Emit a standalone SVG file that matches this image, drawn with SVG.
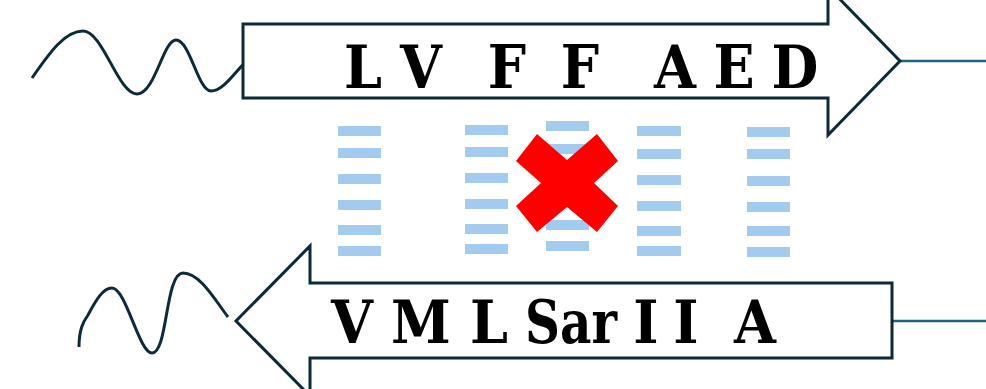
<svg xmlns="http://www.w3.org/2000/svg" width="986" height="389" viewBox="0 0 986 389">
<style>
.arrow{fill:#ffffff;stroke:#0d2a3a;stroke-width:3;stroke-linejoin:miter}
.wave{fill:none;stroke:#0d2a3a;stroke-width:3;stroke-linecap:butt}
.tail{stroke:#1f6288;stroke-width:2.5}
.lbl{font-family:"DejaVu Serif Condensed","DejaVu Serif","Liberation Serif",serif;font-stretch:condensed;font-weight:bold;font-size:60px;fill:#000;text-anchor:middle}
.d{fill:#a3cbef}
</style>
<rect width="986" height="389" fill="#ffffff"/>
<g id="connectors">
<line class="tail" x1="900" y1="61" x2="986" y2="61"/>
<line class="tail" x1="892" y1="321" x2="986" y2="321"/>
<path class="wave" d="M32,78 C50,52 65,31 83,31 C103,31 118,94 137,94 C155,94 163,40 176,40 C190,40 198,91 211,91 C224,91 236,70 246,62"/>
<path class="wave" d="M79,347 C79,330 83,322 88,315 C96,300 103,288 112,288 C126,288 139,353 152,353 C168,353 165,273 183,273 C200,273 215,300 228,317"/>
</g>
<g id="strand-top">
<polygon class="arrow" points="243,24 828,24 828,-13 900,61 828,135 828,98 243,98"/>
<text class="lbl" x="363" y="88">L</text>
<text class="lbl" x="421" y="88">V</text>
<text class="lbl" x="507" y="88">F</text>
<text class="lbl" x="580" y="88">F</text>
<text class="lbl" x="675" y="88">A</text>
<text class="lbl" x="734" y="88">E</text>
<text class="lbl" x="795" y="88">D</text>
</g>
<g id="strand-bottom">
<polygon class="arrow" points="892,283 310,283 310,246 236,321 310,396 310,358 892,358"/>
<text class="lbl" x="352" y="343">V</text>
<text class="lbl" x="421" y="343">M</text>
<text class="lbl" x="489" y="343">L</text>
<text class="lbl" x="571" y="343" textLength="92" lengthAdjust="spacingAndGlyphs">Sar</text>
<text class="lbl" x="646" y="343">I</text>
<text class="lbl" x="686" y="343">I</text>
<text class="lbl" x="755" y="343">A</text>
</g>
<g id="bonds">
<g id="col1">
<rect class="d" x="338" y="126" width="43" height="10"/>
<rect class="d" x="338" y="148" width="43" height="10"/>
<rect class="d" x="338" y="174" width="43" height="10"/>
<rect class="d" x="338" y="200" width="43" height="10"/>
<rect class="d" x="338" y="225" width="43" height="10"/>
<rect class="d" x="338" y="246" width="43" height="10"/>
</g>
<g id="col2">
<rect class="d" x="465" y="125" width="43" height="10"/>
<rect class="d" x="465" y="147" width="43" height="10"/>
<rect class="d" x="465" y="173" width="43" height="10"/>
<rect class="d" x="465" y="199" width="43" height="10"/>
<rect class="d" x="465" y="224" width="43" height="10"/>
<rect class="d" x="465" y="244" width="43" height="10"/>
</g>
<g id="col3">
<rect class="d" x="546" y="121" width="43" height="10"/>
<rect class="d" x="546" y="144" width="43" height="10"/>
<rect class="d" x="546" y="170" width="43" height="10"/>
<rect class="d" x="546" y="196" width="43" height="10"/>
<rect class="d" x="546" y="220" width="43" height="10"/>
<rect class="d" x="546" y="241" width="43" height="10"/>
</g>
<g id="col4">
<rect class="d" x="637" y="126" width="44" height="10"/>
<rect class="d" x="637" y="149" width="44" height="10"/>
<rect class="d" x="637" y="175" width="44" height="10"/>
<rect class="d" x="637" y="201" width="44" height="10"/>
<rect class="d" x="637" y="226" width="44" height="10"/>
<rect class="d" x="637" y="246" width="44" height="10"/>
</g>
<g id="col5">
<rect class="d" x="747" y="127" width="43" height="10"/>
<rect class="d" x="747" y="149" width="43" height="10"/>
<rect class="d" x="747" y="176" width="43" height="10"/>
<rect class="d" x="747" y="202" width="43" height="10"/>
<rect class="d" x="747" y="226" width="43" height="10"/>
<rect class="d" x="747" y="247" width="43" height="10"/>
</g>
</g>
<g id="cross">
<polygon fill="#ff0000" points="537,134 567,160 597,134 618,161 594,183 618,206 597,232 567,207 537,232 516,206 541,183 516,161"/>
</g>
</svg>
